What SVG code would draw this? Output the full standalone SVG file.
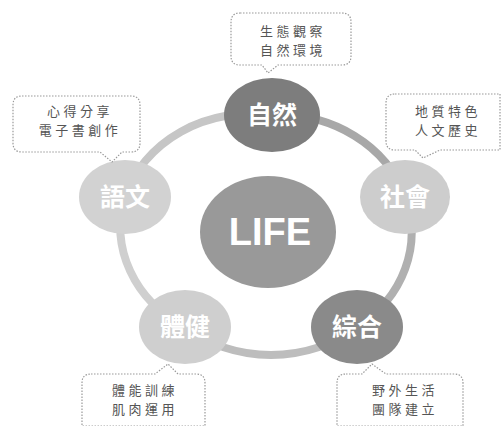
<svg xmlns="http://www.w3.org/2000/svg" width="502" height="426" viewBox="0 0 502 426">
<style>
.bub{fill:#fff;stroke:#999;stroke-width:1.2;stroke-dasharray:1.5 1.5}
.bt{font-family:"Noto Sans CJK TC","Noto Sans CJK SC",sans-serif;font-size:13px;letter-spacing:3.5px;fill:#555;text-anchor:middle}
.nt{font-family:"Noto Sans CJK TC","Noto Sans CJK SC",sans-serif;font-size:25px;font-weight:bold;fill:#fff;text-anchor:middle}
.ring{fill:none;stroke-width:8}
</style>
<rect width="502" height="426" fill="#fff"/>
<g id="connectors">
<path class="ring" stroke="#a8a8a8" d="M272 115 A132 116 0 0 1 405 197"/>
<path class="ring" stroke="#b0b0b0" d="M405 197 A132 116 0 0 1 357 327"/>
<path class="ring" stroke="#bdbdbd" d="M357 327 A132 116 0 0 1 185 327"/>
<path class="ring" stroke="#cfcfcf" d="M185 327 A132 116 0 0 1 125 197"/>
<path class="ring" stroke="#c6c6c6" d="M125 197 A132 116 0 0 1 272 115"/>
</g>
<g id="life"><ellipse cx="268" cy="232" rx="68" ry="56" fill="#999"/><text x="270" y="245" font-family="Liberation Sans,Arial,sans-serif" font-size="38" font-weight="bold" fill="#fff" text-anchor="middle">LIFE</text></g>
<g id="n-ziran"><ellipse cx="272" cy="115" rx="48" ry="37" fill="#7d7d7d"/><text class="nt" x="272" y="124">自然</text></g>
<g id="n-shehui"><ellipse cx="405" cy="197" rx="45" ry="37" fill="#cdcdcd"/><text class="nt" x="405" y="206">社會</text></g>
<g id="n-zonghe"><ellipse cx="357" cy="327" rx="46" ry="37" fill="#8a8a8a"/><text class="nt" x="357" y="336">綜合</text></g>
<g id="n-tijian"><ellipse cx="185" cy="327" rx="46" ry="37" fill="#cfcfcf"/><text class="nt" x="185" y="336">體健</text></g>
<g id="n-yuwen"><ellipse cx="125" cy="197" rx="46" ry="37" fill="#d2d2d2"/><text class="nt" x="125" y="206">語文</text></g>
<g id="c-top"><path class="bub" d="M240 13 H342 Q351 13 351 22 V56 Q351 65 342 65 H278 L268 73 L262 65 H240 Q231 65 231 56 V22 Q231 13 240 13 Z"/><text class="bt" x="293" y="36">生態觀察</text><text class="bt" x="293" y="55">自然環境</text></g>
<g id="c-right"><path class="bub" d="M395 94 H500 V150 H440 L423 158 L415 150 H395 Q386 150 386 141 V103 Q386 94 395 94 Z"/><text class="bt" x="448" y="116">地質特色</text><text class="bt" x="448" y="135">人文歷史</text></g>
<g id="c-left"><path class="bub" d="M22 96 H131 Q140 96 140 105 V143 Q140 152 131 152 H122 L112 162 L100 152 H22 Q13 152 13 143 V105 Q13 96 22 96 Z"/><text class="bt" x="80" y="116">心得分享</text><text class="bt" x="80" y="135">電子書創作</text></g>
<g id="c-botleft"><path class="bub" d="M91 374 H155 L168 364 L178 374 H196 Q205 374 205 383 V426 H82 V383 Q82 374 91 374 Z"/><text class="bt" x="145" y="395">體能訓練</text><text class="bt" x="145" y="414">肌肉運用</text></g>
<g id="c-botright"><path class="bub" d="M346 374 H362 L372 364 L386 374 H454 Q463 374 463 383 V426 H337 V383 Q337 374 346 374 Z"/><text class="bt" x="405" y="395">野外生活</text><text class="bt" x="405" y="414">團隊建立</text></g>
</svg>
